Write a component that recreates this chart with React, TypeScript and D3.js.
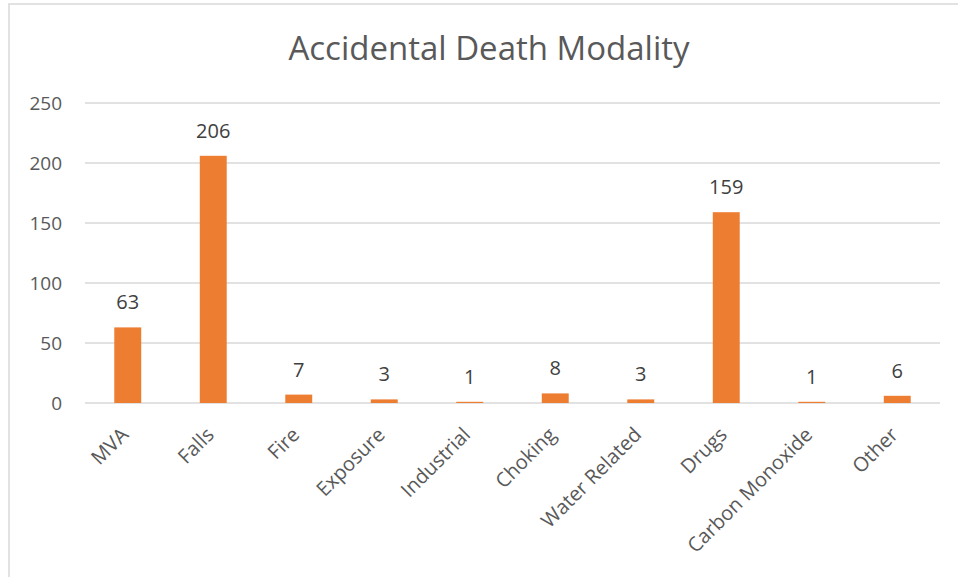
import React from 'react';
import * as d3 from 'd3';

const CATEGORIES = ['MVA', 'Falls', 'Fire', 'Exposure', 'Industrial', 'Choking', 'Water Related', 'Drugs', 'Carbon Monoxide', 'Other'];
const VALUES = [63, 206, 7, 3, 1, 8, 3, 159, 1, 6];
const Y_TICKS = [0, 50, 100, 150, 200, 250];

const W = 958;
const H = 577;
const FONT = '"Open Sans", "Noto Sans", sans-serif';
const PLOT = { left: 85, right: 940, top: 103, bottom: 403 };

export default function App() {
  const x = d3.scaleBand<string>()
    .domain(CATEGORIES)
    .range([PLOT.left, PLOT.right])
    .paddingInner(0.685)
    .paddingOuter(0.3425);
  const y = d3.scaleLinear().domain([0, 250]).range([PLOT.bottom, PLOT.top]);

  return (
    <svg width={W} height={H} style={{ position: 'absolute', left: 0, top: 0 }}>
      <rect x={0} y={0} width={W} height={H} fill="#fff" />
      <rect x={9} y={4} width={W + 10} height={H + 10} fill="#fff" stroke="#d9d9d9" strokeWidth={1.5} />
      <text x={489} y={60} textAnchor="middle" fontFamily={FONT} fontSize={33} fill="#595959">
        Accidental Death Modality
      </text>

      {Y_TICKS.map((t) => (
        <g key={t}>
          <line x1={PLOT.left} x2={PLOT.right} y1={y(t)} y2={y(t)} stroke="#d9d9d9" strokeWidth={1.3} />
          <text x={62} y={y(t) + 7} textAnchor="end" fontFamily={FONT} fontSize={19} fill="#595959">
            {t}
          </text>
        </g>
      ))}

      {CATEGORIES.map((c, i) => {
        const cx = (x(c) ?? 0) + x.bandwidth() / 2;
        return (
          <g key={c}>
            <rect x={x(c)} y={y(VALUES[i])} width={x.bandwidth()} height={y(0) - y(VALUES[i])} fill="#ed7d31" />
            <text x={cx} y={y(VALUES[i]) - 18} textAnchor="middle" fontFamily={FONT} fontSize={20} fill="#404040">
              {VALUES[i]}
            </text>
            <text
              transform={`translate(${cx - 3},${PLOT.bottom + 28}) rotate(-45)`}
              textAnchor="end"
              dy="0.35em"
              fontFamily={FONT}
              fontSize={20}
              fill="#595959"
            >
              {c}
            </text>
          </g>
        );
      })}
    </svg>
  );
}
